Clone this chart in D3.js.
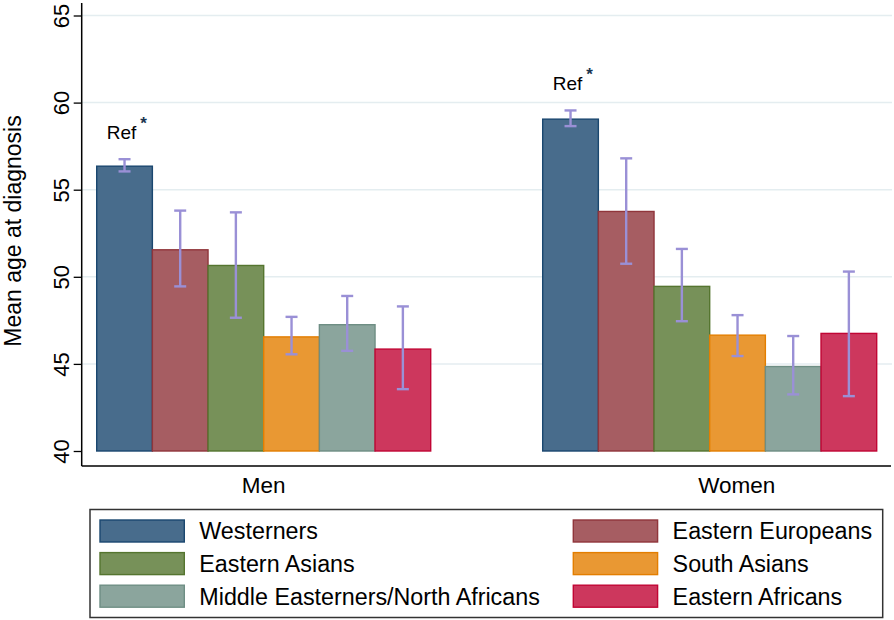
<!DOCTYPE html>
<html>
<head>
<meta charset="utf-8">
<script src="https://cdn.jsdelivr.net/npm/d3@7"></script>
<style>
  html, body { margin: 0; padding: 0; background: #fff; }
  svg { display: block; font-family: "Liberation Sans", Arial, sans-serif; }
</style>
</head>
<body>
<svg id="chart" width="894" height="620"></svg>
<script>
// ---- data ----
const groups = ["Men", "Women"];
const series = ["Westerners", "Eastern Europeans", "Eastern Asians", "South Asians", "Middle Easterners/North Africans", "Eastern Africans"];
const menMean  = [56.35, 51.55, 50.65, 46.55, 47.25, 45.85];
const menLow   = [56.05, 49.45, 47.65, 45.55, 45.75, 43.55];
const menHigh  = [56.75, 53.8, 53.7, 47.7, 48.9, 48.3];
const womenMean = [59.05, 53.75, 49.45, 46.65, 44.85, 46.75];
const womenLow  = [58.65, 50.75, 47.45, 45.45, 43.25, 43.15];
const womenHigh = [59.55, 56.8, 51.6, 47.8, 46.6, 50.3];
const yTicks = [40, 45, 50, 55, 60, 65];
const refLabel = "Ref";

const fills   = ["#486c8c", "#a65d62", "#779159", "#e99833", "#8ba59d", "#cd375d"];
const strokes = ["#1a476f", "#90353b", "#55752f", "#e37e00", "#6e8e84", "#c10534"];

const table = [];
groups.forEach((g, gi) => {
  const m = gi === 0 ? menMean : womenMean;
  const lo = gi === 0 ? menLow : womenLow;
  const hi = gi === 0 ? menHigh : womenHigh;
  series.forEach((s, si) => table.push({ group: g, series: s, si, mean: m[si], low: lo[si], high: hi[si] }));
});

// ---- layout ----
const svg = d3.select("#chart");
const plotLeft = 81.7, plotRight = 892, plotTop = 3, plotBottom = 466;

const y = d3.scaleLinear().domain([40, 65]).range([451, 15.5]);
const x0 = d3.scaleBand().domain(groups).range([96.7, 876.7]).paddingInner(0.2511).paddingOuter(0);
const x1 = d3.scaleBand().domain(series).range([0, x0.bandwidth()]).padding(0);
const color = d3.scaleOrdinal().domain(series).range(fills);
const stroke = d3.scaleOrdinal().domain(series).range(strokes);

// gridlines
svg.append("g").selectAll("line").data(yTicks.filter(t => t > 40)).join("line")
  .attr("x1", plotLeft).attr("x2", plotRight)
  .attr("y1", d => y(d)).attr("y2", d => y(d))
  .attr("stroke", "#e4edf0").attr("stroke-width", 1.5);

// bars
const gBars = svg.append("g");
gBars.selectAll("rect").data(table).join("rect")
  .attr("x", d => x0(d.group) + x1(d.series))
  .attr("width", x1.bandwidth())
  .attr("y", d => y(d.mean))
  .attr("height", d => y(40) - y(d.mean))
  .attr("fill", d => color(d.series))
  .attr("stroke", d => stroke(d.series))
  .attr("stroke-width", 1.4);

// error bars
const errColor = "#9a90d6";
const capW = 12;
const gErr = svg.append("g").attr("stroke", errColor).attr("stroke-width", 2.4).attr("fill", "none");
table.forEach(d => {
  const cx = x0(d.group) + x1(d.series) + x1.bandwidth() / 2;
  gErr.append("line").attr("x1", cx).attr("x2", cx).attr("y1", y(d.low)).attr("y2", y(d.high));
  gErr.append("line").attr("x1", cx - capW / 2).attr("x2", cx + capW / 2).attr("y1", y(d.low)).attr("y2", y(d.low));
  gErr.append("line").attr("x1", cx - capW / 2).attr("x2", cx + capW / 2).attr("y1", y(d.high)).attr("y2", y(d.high));
});

// Ref labels above first series
table.filter(d => d.si === 0).forEach(d => {
  const cx = x0(d.group) + x1(d.series) + x1.bandwidth() / 2;
  svg.append("text").attr("x", cx - 3).attr("y", y(d.high) - 20)
    .attr("text-anchor", "middle").attr("font-size", 19).attr("fill", "#000").text(refLabel);
  svg.append("text").attr("x", cx + 19).attr("y", y(d.high) - 30)
    .attr("text-anchor", "middle").attr("font-size", 17).attr("font-weight", "bold")
    .attr("fill", "#1a3550").text("*");
});

// y axis
const yAxis = d3.axisLeft(y).tickValues(yTicks).tickSize(8).tickFormat(d3.format("d"));
const gy = svg.append("g").attr("transform", `translate(${plotLeft},0)`).call(yAxis);
gy.select(".domain").remove();
gy.selectAll(".tick line").attr("stroke", "#000").attr("stroke-width", 1.3);
gy.selectAll(".tick text")
  .attr("font-size", 22).attr("fill", "#000")
  .attr("font-family", "'Liberation Sans', Arial, sans-serif")
  .attr("x", null).attr("dy", null)
  .attr("text-anchor", "middle")
  .attr("transform", "translate(-13,0) rotate(-90)")
  .attr("y", 0);
svg.append("line").attr("x1", plotLeft).attr("x2", plotLeft).attr("y1", plotTop).attr("y2", plotBottom)
  .attr("stroke", "#000").attr("stroke-width", 1.5);

// x axis line and group labels
svg.append("line").attr("x1", plotLeft).attr("x2", plotRight - 1).attr("y1", plotBottom).attr("y2", plotBottom)
  .attr("stroke", "#000").attr("stroke-width", 1.5);
const labelDx = { "Men": 0, "Women": 27 };
svg.append("g").selectAll("text").data(groups).join("text")
  .attr("x", d => x0(d) + x0.bandwidth() / 2 + labelDx[d])
  .attr("y", 493)
  .attr("text-anchor", "middle").attr("font-size", 22.5).attr("fill", "#000")
  .text(d => d);

// y title
svg.append("text")
  .attr("transform", `translate(21,231) rotate(-90)`)
  .attr("text-anchor", "middle").attr("font-size", 23).attr("fill", "#000")
  .text("Mean age at diagnosis");

// legend
const legX = 90, legY = 509.5, legW = 792.7, legH = 108;
svg.append("rect").attr("x", legX).attr("y", legY).attr("width", legW).attr("height", legH)
  .attr("fill", "#fff").attr("stroke", "#333").attr("stroke-width", 1.5);
const colX = [100, 573.3];
const rowY = [520, 552.6, 585.2];
const swW = 84.3, swH = 22;
const leg = svg.append("g").selectAll("g").data(series).join("g")
  .attr("transform", (d, i) => `translate(${colX[i % 2]},${rowY[Math.floor(i / 2)]})`);
leg.append("rect").attr("width", swW).attr("height", swH)
  .attr("fill", d => color(d)).attr("stroke", d => stroke(d)).attr("stroke-width", 1.4);
leg.append("text").attr("x", swW + 15).attr("y", swH / 2).attr("dy", "0.36em")
  .attr("font-size", 23.3).attr("fill", "#000").text(d => d);
</script>
</body>
</html>
